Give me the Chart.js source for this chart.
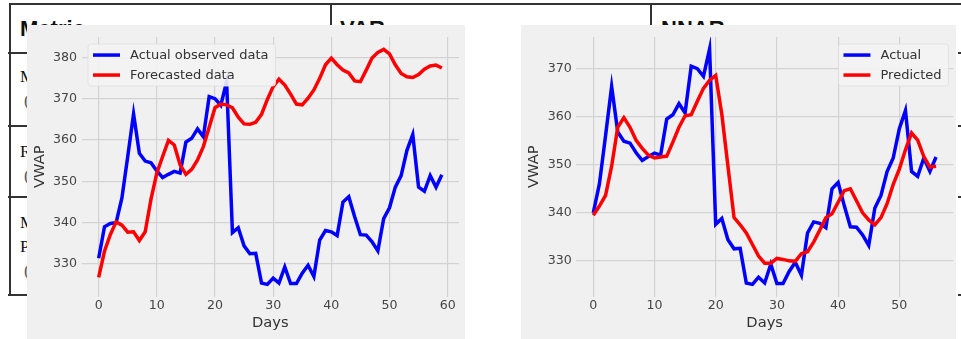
<!DOCTYPE html>
<html>
<head>
<meta charset="utf-8">
<script src="https://cdn.jsdelivr.net/npm/chart.js@4.4.0/dist/chart.umd.min.js"></script>
<style>
  body { margin: 0; width: 961px; height: 339px; position: relative; overflow: hidden; background: #fff; }
  .rule { position: absolute; background: #333; }
  .head { position: absolute; top: 18px; font: bold 22px "Liberation Sans"; line-height: 22px; color: #111; white-space: nowrap; }
  .cell { position: absolute; left: 20px; font: 17px "Liberation Serif"; line-height: 24px; color: #111; white-space: nowrap; }
  .cell .par { padding-left: 4px; color: #555; }
  .plot { position: absolute; top: 25px; height: 314px; background: #f0f0f0; }
  .plot canvas { display: block; }
</style>
</head>
<body>
<!-- table of the document behind the two figures -->
<div class="rule" style="left:9px; top:3px; width:952px; height:2px;"></div>
<div class="rule" style="left:9px; top:3px; width:2px; height:293px;"></div>
<div class="rule" style="left:330px; top:3px; width:2px; height:60px;"></div>
<div class="rule" style="left:650px; top:3px; width:2px; height:60px;"></div>
<div class="rule" style="left:8px; top:52px; width:322px; height:2px;"></div>
<div class="rule" style="left:8px; top:125px; width:322px; height:2px;"></div>
<div class="rule" style="left:8px; top:196px; width:322px; height:2px;"></div>
<div class="rule" style="left:8px; top:294px; width:322px; height:2px;"></div>
<div class="rule" style="left:958px; top:52px; width:3px; height:2px;"></div>
<div class="rule" style="left:958px; top:125px; width:3px; height:2px;"></div>
<div class="rule" style="left:958px; top:196px; width:3px; height:2px;"></div>
<div class="rule" style="left:958px; top:294px; width:3px; height:2px;"></div>
<div class="head" style="left:20px;">Metric</div>
<div class="head" style="left:340px;">VAR</div>
<div class="head" style="left:661px;">NNAR</div>
<div class="cell" style="top:65px;">MAE<br><span class="par">(USD)</span></div>
<div class="cell" style="top:140px;">RMSE<br><span class="par">(USD)</span></div>
<div class="cell" style="top:211px;">Mean Absolute<br>Percentage Error<br><span class="par">(%)</span></div>

<div class="plot" style="left:27px; width:438px;"><canvas id="varChart" width="438" height="314"></canvas></div>
<div class="plot" style="left:521px; width:435px;"><canvas id="nnarChart" width="435" height="314"></canvas></div>

<script>
// VAR figure: 60 days
const varActual = [331.4, 339.0, 339.8, 340.0, 346.0, 356.0, 366.3, 356.8, 354.9, 354.5,
    352.5, 350.9, 351.7, 352.4, 352.0, 359.5, 360.4, 362.7, 360.8, 370.5,
    370.0, 368.4, 374.1, 337.6, 338.8, 334.4, 332.5, 332.6, 325.4, 325.1,
    326.6, 325.4, 329.3, 325.3, 325.3, 327.8, 329.7, 327.0, 335.8, 338.1,
    337.8, 336.9, 345.0, 346.3, 341.5, 337.1, 337.0, 335.4, 333.2, 341.0,
    343.6, 348.6, 351.4, 357.5, 361.3, 348.6, 347.6, 351.4, 348.6, 351.6];
const varForecast = [326.8, 333.1, 337.1, 340.2, 339.4, 337.7, 337.8, 335.7, 337.8, 345.7,
    352.0, 356.0, 359.9, 358.8, 354.0, 351.7, 352.9, 355.2, 358.4, 363.1,
    367.8, 368.7, 368.5, 367.8, 365.5, 363.9, 363.8, 364.3, 366.2, 369.8,
    372.9, 374.7, 373.3, 371.1, 368.7, 368.5, 370.1, 372.1, 374.9, 378.2,
    379.8, 378.2, 376.9, 376.2, 374.3, 374.1, 376.9, 379.8, 381.2, 381.9,
    380.8, 378.2, 376.1, 375.3, 375.1, 375.8, 377.1, 377.9, 378.1, 377.4];
const varXTicks = [0, 10, 20, 30, 40, 50, 60];
const varYTicks = [330, 340, 350, 360, 370, 380];

// NNAR figure: 57 days
const nnarActual = [340.0, 346.0, 356.0, 366.3, 356.8, 354.9, 354.5, 352.5, 350.9, 351.7,
    352.4, 352.0, 359.5, 360.4, 362.7, 360.8, 370.5, 370.0, 368.4, 374.1,
    337.6, 338.8, 334.4, 332.5, 332.6, 325.4, 325.1, 326.6, 325.4, 329.3,
    325.3, 325.3, 327.8, 329.7, 327.0, 335.8, 338.1, 337.8, 336.9, 345.0,
    346.3, 341.5, 337.1, 337.0, 335.4, 333.2, 341.0, 343.6, 348.6, 351.4,
    357.5, 361.3, 348.6, 347.6, 351.4, 348.6, 351.6];
const nnarPredicted = [339.5, 341.4, 343.6, 349.7, 357.8, 359.8, 357.8, 355.1, 353.4, 352.0,
    351.4, 351.6, 351.8, 354.7, 357.8, 360.2, 360.4, 363.2, 365.9, 367.6,
    368.6, 360.5, 349.7, 339.0, 337.5, 335.8, 333.4, 331.0, 329.5, 329.5,
    330.5, 330.3, 330.0, 329.9, 331.5, 331.9, 333.9, 336.4, 339.0, 339.8,
    342.2, 344.6, 345.0, 342.5, 340.0, 338.5, 337.5, 339.0, 341.9, 345.9,
    349.1, 353.1, 356.6, 355.1, 351.7, 349.5, 349.7];
const nnarXTicks = [0, 10, 20, 30, 40, 50];
const nnarYTicks = [330, 340, 350, 360, 370];

// matplotlib-style legend box inside the plot area
const legendBox = {
    id: 'legendBox',
    afterDraw(chart, args, opts) {
        const ctx = chart.ctx;
        const area = chart.chartArea;
        const sets = chart.data.datasets;
        ctx.save();
        ctx.font = '13px "DejaVu Sans"';
        const textW = Math.max(...sets.map(d => ctx.measureText(d.label).width));
        const w = 42 + textW + 7;
        const h = 42;
        const x0 = opts.align === 'right' ? area.right - opts.inset - w : area.left + opts.inset;
        const y0 = area.top + 7;
        ctx.beginPath();
        ctx.roundRect(x0, y0, w, h, 3);
        ctx.fillStyle = 'rgba(243,243,243,0.9)';
        ctx.fill();
        ctx.strokeStyle = 'rgba(222,222,222,0.8)';
        ctx.lineWidth = 1;
        ctx.stroke();
        sets.forEach((d, i) => {
            const y = y0 + 11 + i * 20;
            ctx.beginPath();
            ctx.moveTo(x0 + 5, y);
            ctx.lineTo(x0 + 32, y);
            ctx.strokeStyle = d.borderColor;
            ctx.lineWidth = 3.5;
            ctx.stroke();
            ctx.fillStyle = '#333';
            ctx.textBaseline = 'middle';
            ctx.fillText(d.label, x0 + 42, y + 1);
        });
        ctx.restore();
    }
};

function makeChart(id, series, xTicks, yTicks, cfg) {
    const tickFont = { family: 'DejaVu Sans', size: 12.6 };
    const titleFont = { family: 'DejaVu Sans', size: 14.7 };
    new Chart(document.getElementById(id), {
        type: 'line',
        data: {
            datasets: series.map(s => ({
                label: s.label,
                data: s.values.map((v, i) => ({ x: i, y: v })),
                borderColor: s.color,
                borderWidth: 3.5,
                pointRadius: 0,
                tension: 0,
                fill: false,
                order: s.order
            }))
        },
        options: {
            responsive: false,
            animation: false,
            devicePixelRatio: 1,
            layout: { padding: { left: 0, right: cfg.padRight, top: 6, bottom: 0 } },
            plugins: {
                legend: { display: false },
                tooltip: { enabled: false },
                legendBox: { align: cfg.legendAlign, inset: cfg.legendInset }
            },
            scales: {
                x: {
                    type: 'linear',
                    min: cfg.xMin,
                    max: cfg.xMax,
                    afterBuildTicks: s => { s.ticks = xTicks.map(v => ({ value: v })); },
                    afterFit: s => { s.height = 42.5; },
                    grid: { color: '#d2d2d2', lineWidth: 1.2, drawTicks: false },
                    border: { display: false },
                    ticks: { padding: 2, color: '#444', font: tickFont, maxRotation: 0, autoSkip: false },
                    title: { display: true, text: 'Days', color: '#333', font: titleFont, padding: { top: 0, bottom: 6.9 } }
                },
                y: {
                    type: 'linear',
                    min: cfg.yMin,
                    max: cfg.yMax,
                    afterBuildTicks: s => { s.ticks = yTicks.map(v => ({ value: v })); },
                    afterFit: s => { s.width = cfg.yAxisW; },
                    grid: { color: '#d2d2d2', lineWidth: 1.2, drawTicks: false },
                    border: { display: false },
                    ticks: { padding: 4.5, color: '#444', font: tickFont },
                    title: { display: true, text: 'VWAP', color: '#333', font: titleFont, padding: { top: 4.7, bottom: 0 } }
                }
            }
        },
        plugins: [legendBox]
    });
}

makeChart('varChart', [
    { label: 'Actual observed data', values: varActual, color: '#0000ff', order: 1 },
    { label: 'Forecasted data', values: varForecast, color: '#ff0000', order: 0 }
], varXTicks, varYTicks, {
    xMin: -2.95, xMax: 61.95, yMin: 322.16, yMax: 384.89,
    yAxisW: 54.5, padRight: 6, legendAlign: 'left', legendInset: 6.5
});

makeChart('nnarChart', [
    { label: 'Actual', values: nnarActual, color: '#0000ff', order: 1 },
    { label: 'Predicted', values: nnarPredicted, color: '#ff0000', order: 0 }
], nnarXTicks, nnarYTicks, {
    xMin: -2.79, xMax: 58.8, yMin: 322.58, yMax: 376.57,
    yAxisW: 55.2, padRight: 2.8, legendAlign: 'right', legendInset: 4.7
});
</script>
</body>
</html>
